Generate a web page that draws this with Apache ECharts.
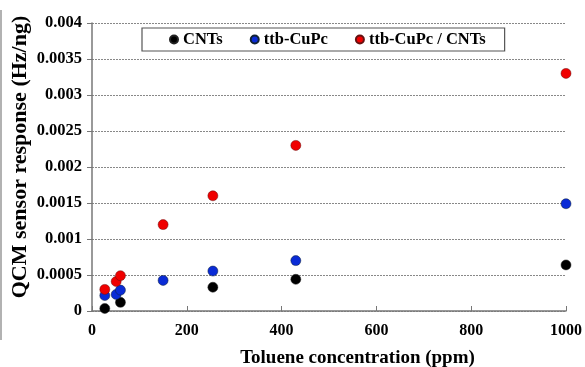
<!DOCTYPE html>
<html>
<head>
<meta charset="utf-8">
<script src="https://cdn.jsdelivr.net/npm/echarts@6/dist/echarts.min.js"></script>
<style>
  html, body { margin: 0; padding: 0; background: #fff; }
  #chart { width: 585px; height: 367px; }
</style>
</head>
<body>
<div id="chart"></div>
<script>
// Toluene concentration (ppm) for each measurement
const concCNT = [27, 60, 255, 430, 1000];
const concCuPc = [27, 51, 60, 150, 255, 430, 1000];
const concHybrid = [27, 51, 60, 150, 255, 430, 1000];

// QCM sensor response (Hz/ng)
const respCNT = [0.000035, 0.00012, 0.00033, 0.00044, 0.00064];
const respCuPc = [0.000215, 0.00023, 0.00029, 0.000425, 0.000555, 0.0007, 0.00149];
const respHybrid = [0.0003, 0.00041, 0.00049, 0.0012, 0.0016, 0.0023, 0.0033];

const seriesNames = ['CNTs', 'ttb-CuPc', 'ttb-CuPc / CNTs'];
const seriesColors = ['#000000', '#0a2bd6', '#f00000'];

const pair = (xs, ys) => xs.map((x, i) => [x, ys[i]]);

const font = '"Liberation Serif", "Times New Roman", serif';

const chart = echarts.init(document.getElementById('chart'));
chart.setOption({
  animation: false,
  textStyle: { fontFamily: font },
  grid: { left: 92, right: 19, top: 23, bottom: 56, outerBoundsMode: 'none' },
  legend: {
    data: seriesNames,
    left: 142,
    top: 28,
    padding: [3, 19, 3, 27],
    itemGap: 27,
    itemWidth: 8,
    itemHeight: 8,
    icon: 'circle',
    borderColor: '#555',
    borderWidth: 1.2,
    backgroundColor: '#fff',
    textStyle: { fontFamily: font, fontWeight: 'bold', fontSize: 16.5, color: '#000', padding: [2, 0, 0, 0] }
  },
  xAxis: {
    type: 'value',
    min: 0,
    max: 1000,
    interval: 200,
    name: 'Toluene concentration (ppm)',
    nameLocation: 'middle',
    nameGap: 38,
    nameMoveOverlap: false,
    nameTextStyle: { fontFamily: font, fontWeight: 'bold', fontSize: 19, color: '#000', padding: [0, 0, 0, 57] },
    axisLine: { show: true, lineStyle: { color: '#777', width: 1.5 } },
    axisTick: { show: true, inside: true, length: 5, lineStyle: { color: '#777' } },
    axisLabel: { fontFamily: font, fontWeight: 'bold', fontSize: 16, color: '#000', margin: 12, formatter: v => String(v) },
    splitLine: { show: false }
  },
  yAxis: {
    type: 'value',
    min: 0,
    max: 0.004,
    interval: 0.0005,
    name: 'QCM sensor response (Hz/ng)',
    nameLocation: 'middle',
    nameGap: 61,
    nameMoveOverlap: false,
    nameTextStyle: { fontFamily: font, fontWeight: 'bold', fontSize: 22, color: '#000', padding: [0, 0, 0, 20] },
    axisLine: { show: true, lineStyle: { color: '#777', width: 1.5 } },
    axisTick: { show: true, length: 5, lineStyle: { color: '#777' } },
    axisLabel: {
      fontFamily: font, fontWeight: 'bold', fontSize: 16.5, color: '#000', margin: 10,
      formatter: v => (v === 0 ? '0' : String(parseFloat(v.toFixed(4))))
    },
    splitLine: { show: true, lineStyle: { color: '#888', type: [2, 1], width: 1 } }
  },
  graphic: [
    { type: 'line', shape: { x1: 1, y1: 10, x2: 1, y2: 340 }, style: { stroke: '#999', lineWidth: 1.5 } }
  ],
  series: [
    { name: seriesNames[0], type: 'scatter', data: pair(concCNT, respCNT), symbolSize: 10,
      itemStyle: { color: seriesColors[0], opacity: 1, borderColor: '#222', borderWidth: 0.5 } },
    { name: seriesNames[1], type: 'scatter', data: pair(concCuPc, respCuPc), symbolSize: 10,
      itemStyle: { color: seriesColors[1], opacity: 1, borderColor: '#123', borderWidth: 0.5 } },
    { name: seriesNames[2], type: 'scatter', data: pair(concHybrid, respHybrid), symbolSize: 10,
      itemStyle: { color: seriesColors[2], opacity: 1, borderColor: '#611', borderWidth: 0.5 } }
  ]
});
</script>
</body>
</html>
